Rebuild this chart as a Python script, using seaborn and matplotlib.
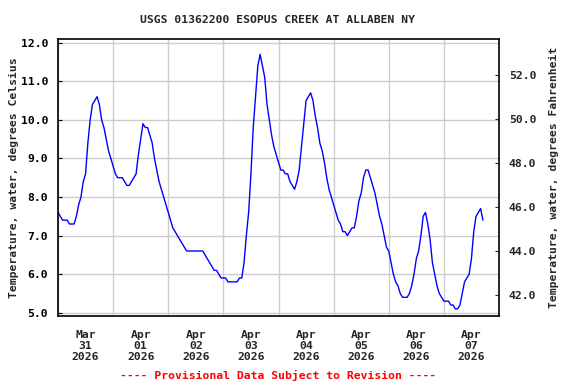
import numpy as np
import pandas as pd
import matplotlib
matplotlib.use("Agg")
import matplotlib.pyplot as plt
import matplotlib.dates as mdates
import seaborn as sns

# hourly water temperature (deg C), one list per day
mar31 = [7.6, 7.5, 7.4, 7.4, 7.4, 7.3, 7.3, 7.3, 7.5, 7.8, 8.0, 8.4,
         8.6, 9.4, 10.0, 10.4, 10.5, 10.6, 10.4, 10.0, 9.8, 9.5, 9.2, 9.0]
apr01 = [8.8, 8.6, 8.5, 8.5, 8.5, 8.4, 8.3, 8.3, 8.4, 8.5, 8.6, 9.1,
         9.5, 9.9, 9.8, 9.8, 9.6, 9.4, 9.0, 8.7, 8.4, 8.2, 8.0, 7.8]
apr02 = [7.6, 7.4, 7.2, 7.1, 7.0, 6.9, 6.8, 6.7, 6.6, 6.6, 6.6, 6.6,
         6.6, 6.6, 6.6, 6.6, 6.5, 6.4, 6.3, 6.2, 6.1, 6.1, 6.0, 5.9]
apr03 = [5.9, 5.9, 5.8, 5.8, 5.8, 5.8, 5.8, 5.9, 5.9, 6.3, 7.0, 7.6,
         8.6, 9.8, 10.6, 11.4, 11.7, 11.4, 11.1, 10.4, 10.0, 9.6, 9.3, 9.1]
apr04 = [8.9, 8.7, 8.7, 8.6, 8.6, 8.4, 8.3, 8.2, 8.4, 8.7, 9.3, 9.9,
         10.5, 10.6, 10.7, 10.5, 10.1, 9.8, 9.4, 9.2, 8.9, 8.5, 8.2, 8.0]
apr05 = [7.8, 7.6, 7.4, 7.3, 7.1, 7.1, 7.0, 7.1, 7.2, 7.2, 7.5, 7.9,
         8.1, 8.5, 8.7, 8.7, 8.5, 8.3, 8.1, 7.8, 7.5, 7.3, 7.0, 6.7]
apr06 = [6.6, 6.3, 6.0, 5.8, 5.7, 5.5, 5.4, 5.4, 5.4, 5.5, 5.7, 6.0,
         6.4, 6.6, 7.0, 7.5, 7.6, 7.3, 6.9, 6.3, 6.0, 5.7, 5.5, 5.4]
apr07 = [5.3, 5.3, 5.3, 5.2, 5.2, 5.1, 5.1, 5.2, 5.5, 5.8, 5.9, 6.0,
         6.4, 7.1, 7.5, 7.6, 7.7, 7.4]

day_names = ["Mar\n31\n2026", "Apr\n01\n2026", "Apr\n02\n2026", "Apr\n03\n2026",
             "Apr\n04\n2026", "Apr\n05\n2026", "Apr\n06\n2026", "Apr\n07\n2026"]
c_ticks = [5.0, 6.0, 7.0, 8.0, 9.0, 10.0, 11.0, 12.0]
f_ticks = [42.0, 44.0, 46.0, 48.0, 50.0, 52.0]

temps = mar31 + apr01 + apr02 + apr03 + apr04 + apr05 + apr06 + apr07
start = pd.Timestamp("2026-03-31 00:00")
df = pd.DataFrame({"time": pd.date_range(start, periods=len(temps), freq="h"),
                   "temp": temps})

sns.set_style("white")
plt.rcParams["font.family"] = ["DejaVu Sans Mono"]
plt.rcParams["font.weight"] = "bold"
fs = 8.2

fig = plt.figure(figsize=(5.76, 3.84), dpi=100)
ax = fig.add_axes([58 / 576, 1 - 316 / 384, 441 / 576, 277 / 384])
sns.lineplot(data=df, x="time", y="temp", ax=ax, color="#0000ff", lw=1.0)

ax.set_xlim(start, start + pd.Timedelta(days=8))
ax.set_ylim(4.915, 12.096)
ax.set_yticks(c_ticks)
ax.set_yticklabels([f"{v:.1f}" for v in c_ticks], fontsize=fs, fontweight="bold")

midnights = pd.date_range(start, periods=9, freq="D")
noons = midnights[:-1] + pd.Timedelta(hours=12)
ax.set_xticks(midnights)
ax.set_xticklabels([""] * len(midnights))
ax.set_xticks(noons, minor=True)
ax.set_xticklabels(day_names, minor=True, fontsize=fs, fontweight="bold",
                   linespacing=1.15)
ax.tick_params(axis="x", which="both", length=0, pad=10)
ax.tick_params(axis="y", direction="in", length=3, pad=7, colors="black")
ax.grid(True, which="major", color="#cccccc", lw=1.0)
ax.set_axisbelow(True)
for s in ax.spines.values():
    s.set_color("black")
    s.set_linewidth(1.2)

ax.set_xlabel("")
ax.set_ylabel("Temperature, water, degrees Celsius", fontsize=fs, fontweight="bold")
ax.yaxis.set_label_coords(-0.088, 0.5)

ax2 = ax.twinx()
ax2.set_ylim(41.05, 53.64)
ax2.set_yticks(f_ticks)
ax2.set_yticklabels([f"{v:.1f}" for v in f_ticks], fontsize=fs, fontweight="bold")
ax2.tick_params(axis="y", direction="in", length=3, pad=7)
ax2.grid(False)
for s in ax2.spines.values():
    s.set_visible(False)
ax2.set_ylabel("Temperature, water, degrees Fahrenheit", fontsize=fs,
               fontweight="bold")
ax2.yaxis.set_label_coords(1.114, 0.5)

fig.text(0.481, 1 - 20 / 384, "USGS 01362200 ESOPUS CREEK AT ALLABEN NY",
         ha="center", va="center", fontsize=fs, fontweight="bold")
fig.text(0.483, 1 - 375 / 384, "---- Provisional Data Subject to Revision ----",
         ha="center", va="center", fontsize=fs, fontweight="bold", color="#ff0000")

fig.savefig("out.png", dpi=100)
